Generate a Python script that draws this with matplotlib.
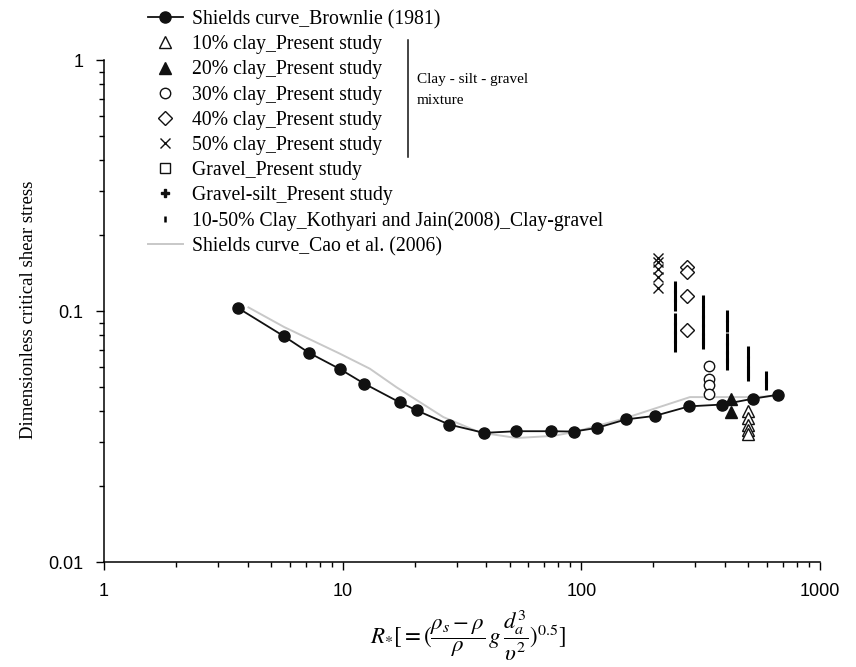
import matplotlib
matplotlib.use("Agg")
import matplotlib.pyplot as plt
from matplotlib.lines import Line2D

plt.rcParams['mathtext.fontset'] = 'stix'

# Shields curve, Brownlie (1981)
brownlie_re = [3.65, 5.69, 7.22, 9.74, 12.3, 17.3, 20.4, 27.9, 39.1, 53.4, 74.4,
               92.9, 115.9, 153.8, 202.8, 282.4, 388, 522, 666]
brownlie_tau = [0.1027, 0.0792, 0.0682, 0.0587, 0.0514, 0.0433, 0.0402, 0.0353,
                0.0327, 0.0332, 0.0332, 0.0331, 0.0342, 0.0370, 0.0382, 0.0417,
                0.0424, 0.0447, 0.0464]

# Shields curve, Cao et al. (2006)
cao_re = [4.03, 5.69, 9.74, 13.0, 16.8, 26.4, 37.6, 53.6, 76.0, 92.5, 149.8, 285, 523, 640]
cao_tau = [0.1034, 0.0863, 0.0676, 0.0589, 0.0497, 0.0378, 0.0328, 0.0312, 0.0318,
           0.0329, 0.0372, 0.0454, 0.0454, 0.0458]

# present study, clay-silt-gravel mixtures
clay10_re = [500, 500, 500, 500, 500]
clay10_tau = [0.0398, 0.0376, 0.0350, 0.0337, 0.0325]
clay20_re = [422, 422]
clay20_tau = [0.0448, 0.0395]
clay30_re = [344, 344, 344, 344]
clay30_tau = [0.0602, 0.0534, 0.0505, 0.0469]
clay40_re = [276, 276, 276, 276]
clay40_tau = [0.1497, 0.1430, 0.1144, 0.0837]
clay50_re = [210, 210, 210, 210, 210]
clay50_tau = [0.163, 0.157, 0.147, 0.137, 0.123]
gravel_re, gravel_tau = [], []
gravel_silt_re, gravel_silt_tau = [], []

# Kothyari and Jain (2008), clay-gravel
kj_re = [246.7] * 7 + [322] * 6 + [407.4] * 6 + [497.4] * 4 + [593] * 2
kj_tau = [0.1243, 0.1144, 0.1053, 0.0931, 0.0857, 0.0788, 0.0726,
          0.1093, 0.0988, 0.0909, 0.0837, 0.0771, 0.0743,
          0.0952, 0.0869, 0.0774, 0.0713, 0.0656, 0.0613,
          0.0687, 0.0624, 0.0574, 0.0554,
          0.0546, 0.0510]

serif = 'Liberation Serif'
sans = 'Liberation Sans'

fig = plt.figure(figsize=(8.56, 6.67), dpi=100)
ax = fig.add_axes([0.1215, 0.1574, 0.8365, 0.7526])

ax.plot(cao_re, cao_tau, color='#c8c8c8', lw=1.4, zorder=1)
ax.plot(brownlie_re, brownlie_tau, '-o', color='#111111', lw=1.3, ms=8, zorder=3)

open_kw = dict(ls='none', mfc='white', mec='#111111', mew=1.0, zorder=4)
ax.plot(clay10_re, clay10_tau, '^', ms=8, **open_kw)
ax.plot(clay20_re, clay20_tau, '^', ls='none', color='#111111', ms=8, zorder=4)
ax.plot(clay30_re, clay30_tau, 'o', ms=7.5, **open_kw)
ax.plot(clay40_re, clay40_tau, 'D', ms=7.5, **open_kw)
ax.plot(clay50_re, clay50_tau, 'x', ls='none', color='#111111', ms=7.5, mew=1.0, zorder=4)
ax.plot(gravel_re, gravel_tau, 's', ms=7, **open_kw)
ax.plot(gravel_silt_re, gravel_silt_tau, 'P', ls='none', color='#111111', ms=6)
ax.plot(kj_re, kj_tau, '|', ls='none', color='#000000', ms=8.5, mew=2.2, zorder=2)

ax.set_xscale('log')
ax.set_yscale('log')
ax.set_xlim(1, 1000)
ax.set_ylim(0.01, 1)
ax.set_xticks([1, 10, 100, 1000])
ax.set_xticklabels(['1', '10', '100', '1000'])
ax.set_yticks([0.01, 0.1, 1])
ax.set_yticklabels(['0.01', '0.1', '1'])
for s in ['top', 'right']:
    ax.spines[s].set_visible(False)
for s in ['left', 'bottom']:
    ax.spines[s].set_linewidth(1.1)
ax.tick_params(which='major', direction='out', length=6, width=1, labelsize=13, pad=9)
ax.tick_params(which='minor', direction='out', length=3.5, width=1)
for lab in ax.get_xticklabels() + ax.get_yticklabels():
    lab.set_fontfamily(sans)

fig.text(0.033, 0.535, 'Dimensionless critical shear stress', rotation=90,
         ha='center', va='center', fontsize=13.5, family=serif)
fig.text(0.546, 0.047,
         r'$R_{*}[=(\dfrac{\rho_s-\rho}{\rho}\,g\,\dfrac{d_a^3}{\upsilon^2})^{0.5}]$',
         ha='center', va='center', fontsize=16.5)

# legend
handles = [
    Line2D([], [], color='#111111', marker='o', ms=8, lw=1.3),
    Line2D([], [], marker='^', ms=8, **open_kw),
    Line2D([], [], marker='^', ls='none', color='#111111', ms=8),
    Line2D([], [], marker='o', ms=7.5, **open_kw),
    Line2D([], [], marker='D', ms=7.5, **open_kw),
    Line2D([], [], marker='x', ls='none', color='#111111', ms=7.5, mew=1.0),
    Line2D([], [], marker='s', ms=7, **open_kw),
    Line2D([], [], marker='P', ls='none', color='#111111', ms=6),
    Line2D([], [], marker='|', ls='none', color='#000000', ms=5, mew=1.8),
    Line2D([], [], color='#c8c8c8', lw=1.4),
]
labels = [
    'Shields curve_Brownlie (1981)',
    '10% clay_Present study',
    '20% clay_Present study',
    '30% clay_Present study',
    '40% clay_Present study',
    '50% clay_Present study',
    'Gravel_Present study',
    'Gravel-silt_Present study',
    '10-50% Clay_Kothyari and Jain(2008)_Clay-gravel',
    'Shields curve_Cao et al. (2006)',
]
fig.legend(handles, labels, loc='upper left', bbox_to_anchor=(148 / 856, 1 - 10 / 667),
           frameon=False, prop={'family': serif, 'size': 14.2}, handlelength=1.75,
           handletextpad=0.5, labelspacing=0.31, borderpad=0, borderaxespad=0)

# bracket for the mixture group
fig.add_artist(Line2D([408 / 856, 408 / 856], [1 - 40 / 667, 1 - 157 / 667],
                      color='#111111', lw=1.1))
fig.text(417 / 856, 1 - 79 / 667, 'Clay - silt - gravel', ha='left', va='center',
         fontsize=11, family=serif)
fig.text(417 / 856, 1 - 101 / 667, 'mixture', ha='left', va='center',
         fontsize=11, family=serif)

fig.savefig('out.png', dpi=100)
